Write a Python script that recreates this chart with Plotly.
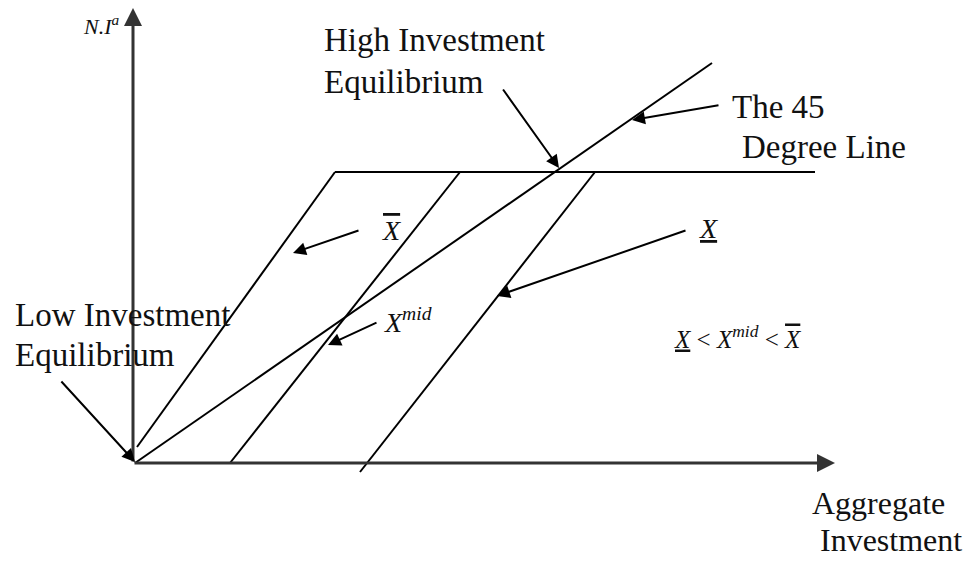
import plotly.graph_objects as go

# schedules (data units, origin at the axes corner)
xbar_x = [4, 202]
xbar_y = [16, 291]
xmid_x = [97, 327]
xmid_y = [0, 291]
xlow_x = [227, 462]
xlow_y = [-9, 291]
flat_x = [202, 682]
flat_y = [291, 291]
deg45_x = [2, 579]
deg45_y = [0, 400]

# arrows: (tail x, tail y, head x, head y)
arrows = [
    (369, 375, 426, 295),   # high investment equilibrium
    (587, 358, 499, 343),   # 45 degree line
    (227, 233, 160, 210),   # X bar
    (245, 141, 195, 118),   # X mid
    (554, 233, 364, 167),   # X underline
    (-73, 83, 2, 1),        # low investment equilibrium
]

serif = "Liberation Serif"

fig = go.Figure()
for xs, ys in [(xbar_x, xbar_y), (xmid_x, xmid_y), (xlow_x, xlow_y),
               (flat_x, flat_y), (deg45_x, deg45_y)]:
    fig.add_trace(go.Scatter(x=xs, y=ys, mode="lines",
                             line=dict(color="black", width=2),
                             hoverinfo="skip", showlegend=False))

# axes drawn as arrows
for tx, ty, hx, hy in [(0, 0, 0, 455), (0, 0, 702, 0)]:
    fig.add_annotation(x=hx, y=hy, ax=tx, ay=ty, xref="x", yref="y",
                       axref="x", ayref="y", text="", showarrow=True,
                       arrowhead=2, arrowsize=1.2, arrowwidth=3,
                       arrowcolor="#333333")

for tx, ty, hx, hy in arrows:
    fig.add_annotation(x=hx, y=hy, ax=tx, ay=ty, xref="x", yref="y",
                       axref="x", ayref="y", text="", showarrow=True,
                       arrowhead=2, arrowsize=1.3, arrowwidth=2,
                       arrowcolor="black")

def label(x, y, text, size=33, xanchor="left"):
    fig.add_annotation(x=x, y=y, xref="x", yref="y", text=text,
                       showarrow=False, xanchor=xanchor, yanchor="middle",
                       align="left",
                       font=dict(family=serif, size=size, color="#111111"))

label(-32, 438, "<i>N.I<sup>a</sup></i>", size=22, xanchor="center")
label(189, 423, "High Investment")
label(189, 381, "Equilibrium")
label(597, 356, "The 45")
label(607, 316, "Degree Line")
label(-120, 148, "Low Investment")
label(-120, 108, "Equilibrium")
label(677, -40, "Aggregate", size=32)
label(685, -77, "Investment", size=32)
label(247, 233, '<span style="text-decoration:overline"><i>X</i></span>', size=28)
label(249, 143, "<i>X<sup>mid</sup></i>", size=28)
label(564, 235, "<u><i>X</i></u>", size=28)
label(539, 126, '<u><i>X</i></u> &lt; <i>X<sup>mid</sup></i> &lt; '
      '<span style="text-decoration:overline"><i>X</i></span>', size=25)

fig.update_layout(
    width=975, height=563,
    margin=dict(l=0, r=0, t=0, b=0),
    paper_bgcolor="white", plot_bgcolor="white",
    xaxis=dict(range=[-125, 850], visible=False, fixedrange=True),
    yaxis=dict(range=[-108, 455], visible=False, fixedrange=True),
)

fig.write_html("out.html")
